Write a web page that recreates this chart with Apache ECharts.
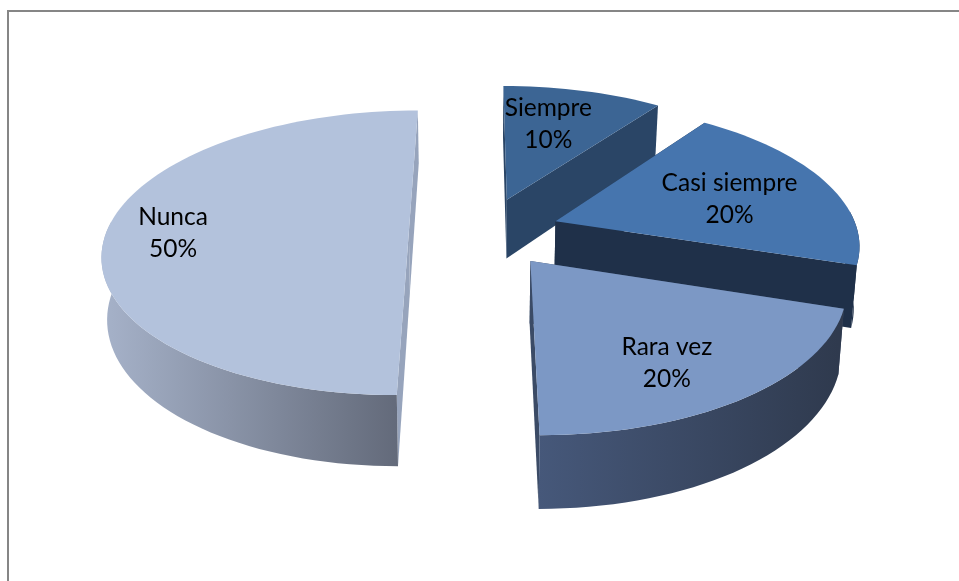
<!DOCTYPE html>
<html>
<head>
<meta charset="utf-8">
<style>html,body{margin:0;padding:0;background:#fff}#c{width:959px;height:581px}</style>
<script src="https://cdn.jsdelivr.net/npm/echarts@6/dist/echarts.min.js"></script>
</head>
<body>
<div id="c"></div>
<script>
// Data
const categories = ['Siempre', 'Casi siempre', 'Rara vez', 'Nunca'];
const shares = [10, 20, 20, 50];

// Colours
const topColors = ['#3c6594', '#4675ae', '#7c98c5', '#b3c2dc'];
const faceColors = ['#2a4566', '#1f3049', '#3b4b66', '#97a4bc'];
const wallStops = [
  ['#2a4566', '#2a4566'],
  ['#1f3049', '#1f3049'],
  ['#46587a', '#2f3a4e'],
  ['#a5b1c8', '#636a7a']
];
// Label placement relative to each slice
const labelRadius = [0.62, 0.63, 0.75, 0.77];
const labelNudgeX = [-8, 2, -20, -3];
const labelNudgeY = [-5, 4, 3, 1];

// Perspective camera of the 3D pie (unit radius world -> screen)
const vanishX = 479, vanishY = -716, focalY = 1000, focalX = 319;
const baseW = 1.055, depthK = 0.155, explode = 0.25, shiftX = 0.018;
const wallDepth = 64, wallShrink = 0.985;

const total = shares.reduce((a, b) => a + b, 0);
const slices = [];
shares.reduce((acc, v) => {
  const a0 = acc / total * 2 * Math.PI;
  const a1 = (acc + v) / total * 2 * Math.PI;
  slices.push({ a0, a1, mid: (a0 + a1) / 2 });
  return acc + v;
}, 0);

function project(s, r, th) {
  const X = shiftX + explode * Math.sin(s.mid) + r * Math.sin(th);
  const Y = explode * Math.cos(s.mid) + r * Math.cos(th);
  const w = baseW + depthK * Y;
  return { x: vanishX + focalX * X / w, y: vanishY + focalY / w, w };
}
const topPt = p => [p.x, p.y];
const botPt = p => [vanishX + (p.x - vanishX) * wallShrink, p.y + wallDepth / p.w];

function rim(s) {
  const n = Math.max(8, Math.round((s.a1 - s.a0) / (Math.PI / 90)));
  const pts = [];
  for (let k = 0; k <= n; k++) {
    const th = s.a0 + (s.a1 - s.a0) * k / n;
    pts.push(Object.assign(project(s, 1, th), { front: Math.cos(th) < 0.1 }));
  }
  return pts;
}

function renderItem(params, api) {
  const i = api.value(0);
  const s = slices[i];
  const apex = project(s, 0, 0);
  const arc = rim(s);
  const first = arc[0], last = arc[arc.length - 1];
  const poly = (points, fill) => ({ type: 'polygon', silent: true, shape: { points }, style: { fill } });

  const topRim = arc.map(topPt);
  const front = arc.filter(p => p.front);
  const children = [
    poly([topPt(apex), topPt(first), botPt(first), botPt(apex)], faceColors[i]),
    poly([topPt(apex), topPt(last), botPt(last), botPt(apex)], faceColors[i])
  ];
  if (front.length > 1) {
    const xs = front.map(p => botPt(p)[0]);
    const wallFill = new echarts.graphic.LinearGradient(
      Math.min(...xs), 0, Math.max(...xs), 0,
      [{ offset: 0, color: wallStops[i][0] }, { offset: 1, color: wallStops[i][1] }], true);
    children.push(poly(front.map(topPt).concat(front.map(botPt).reverse()), wallFill));
  }
  children.push(poly([topPt(apex)].concat(topRim), topColors[i]));

  const lp = project(s, labelRadius[i], s.mid);
  children.push({
    type: 'text', silent: true, z2: 10,
    style: {
      x: lp.x + labelNudgeX[i], y: lp.y + labelNudgeY[i],
      text: categories[i] + '\n' + Math.round(api.value(1) / total * 100) + '%',
      fill: '#000',
      font: '24.5px Lato, "Open Sans", sans-serif',
      lineHeight: 32, align: 'center', verticalAlign: 'middle'
    }
  });
  return { type: 'group', children };
}

const chart = echarts.init(document.getElementById('c'), null, { renderer: 'canvas' });
chart.setOption({
  animation: false,
  backgroundColor: '#ffffff',
  graphic: [
    { type: 'line', silent: true, shape: { x1: 8, y1: 11, x2: 959, y2: 11 }, style: { stroke: '#868686', lineWidth: 2 } },
    { type: 'line', silent: true, shape: { x1: 8, y1: 10, x2: 8, y2: 581 }, style: { stroke: '#868686', lineWidth: 2 } }
  ],
  series: [{
    type: 'custom',
    coordinateSystem: 'none',
    renderItem,
    data: shares.map((v, i) => [i, v])
  }]
});
</script>
</body>
</html>
